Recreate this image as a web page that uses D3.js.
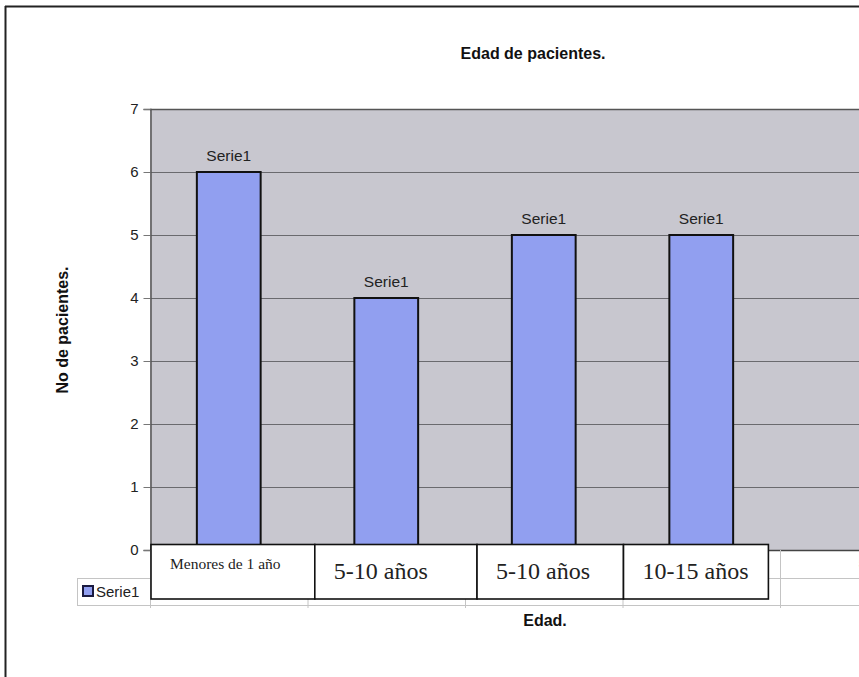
<!DOCTYPE html>
<html><head><meta charset="utf-8">
<script src="https://cdn.jsdelivr.net/npm/d3@7/dist/d3.min.js"></script>
<style>html,body{margin:0;padding:0;background:#fff;overflow:hidden}</style>
</head><body>
<svg id="c" width="859" height="677"></svg>
<script>
// ---- data ----
const categories = ["Menores de 1 año", "5-10 años", "5-10 años", "10-15 años"];
const values = [6, 4, 5, 5];
const hiddenTableLabels = ["", "", "", "", "5"]; // underlying data-table row (only the 5th peeks out at the right edge)
const seriesName = "Serie1";
const yTicks = [0, 1, 2, 3, 4, 5, 6, 7];
const title = "Edad de pacientes.";
const xTitle = "Edad.";
const yTitle = "No de pacientes.";

// ---- layout ----
const W = 859, H = 677;
const plot = {left: 150, top: 109, bottom: 550, step: 157.5};
const overlayEdges = [0, 1.04, 2.07, 3.0, 3.92]; // in category-step units
const svg = d3.select("#c");
const arial = "Arial, 'Liberation Sans', sans-serif";
const times = "'Times New Roman', 'Liberation Serif', serif";

const nCols = hiddenTableLabels.length;
const x = d3.scaleBand().domain(d3.range(nCols)).range([plot.left, plot.left + plot.step * nCols]).padding(0);
const y = d3.scaleLinear().domain([0, 7]).range([plot.bottom, plot.top]);
const barW = x.bandwidth() * 0.405;

// outer frame
svg.append("line").attr("x1", 5).attr("x2", W).attr("y1", 6.5).attr("y2", 6.5).attr("stroke", "#222").attr("stroke-width", 2);
svg.append("line").attr("x1", 5.5).attr("x2", 5.5).attr("y1", 6).attr("y2", H).attr("stroke", "#222").attr("stroke-width", 2);

// plot background
svg.append("rect").attr("x", plot.left).attr("y", plot.top).attr("width", W - plot.left).attr("height", plot.bottom - plot.top)
  .attr("fill", "#c8c7cf");

// gridlines
svg.append("g").selectAll("line").data(yTicks.filter(d => d > 0)).join("line")
  .attr("x1", plot.left).attr("x2", W).attr("y1", d => Math.round(y(d)) + 0.5).attr("y2", d => Math.round(y(d)) + 0.5)
  .attr("stroke", d => d === 7 ? "#555" : "#6a6a6e").attr("stroke-width", d => d === 7 ? 1.5 : 1);

// y axis
const yAxis = d3.axisLeft(y).tickValues(yTicks).tickSize(7).tickPadding(5).tickFormat(d3.format("d"));
const ga = svg.append("g").attr("transform", `translate(${plot.left + 0.5},0)`).call(yAxis);
ga.select(".domain").attr("stroke", "#555").attr("stroke-width", 1.5);
ga.selectAll(".tick line").attr("stroke", "#777");
ga.selectAll("text").attr("font-family", arial).attr("font-size", 15).attr("fill", "#222");

// bars
svg.append("g").selectAll("rect").data(values).join("rect")
  .attr("x", (d, i) => x(i) + x.bandwidth() / 2 - barW / 2)
  .attr("y", d => y(d))
  .attr("width", barW)
  .attr("height", d => y(0) - y(d))
  .attr("fill", "#919ff0").attr("stroke", "#111").attr("stroke-width", 2);

// data labels
svg.append("g").selectAll("text").data(values).join("text")
  .attr("x", (d, i) => x(i) + x.bandwidth() / 2)
  .attr("y", d => y(d) - 11)
  .attr("text-anchor", "middle").attr("font-family", arial).attr("font-size", 15.5).attr("fill", "#222")
  .text(seriesName);

// x axis line (plot bottom)
svg.append("line").attr("x1", plot.left).attr("x2", W).attr("y1", plot.bottom + 0.5).attr("y2", plot.bottom + 0.5)
  .attr("stroke", "#444").attr("stroke-width", 1.5);

// underlying faint data table
const rowY = [plot.bottom, 578, 605];
const tbl = svg.append("g").attr("stroke", "#c4c4c4").attr("stroke-width", 1);
tbl.append("line").attr("x1", plot.left).attr("x2", W).attr("y1", rowY[1] + 0.5).attr("y2", rowY[1] + 0.5);
tbl.append("line").attr("x1", 77).attr("x2", W).attr("y1", rowY[2] + 0.5).attr("y2", rowY[2] + 0.5);
tbl.append("line").attr("x1", 77).attr("x2", plot.left).attr("y1", rowY[1] + 0.5).attr("y2", rowY[1] + 0.5);
tbl.append("line").attr("x1", 77.5).attr("x2", 77.5).attr("y1", rowY[1]).attr("y2", rowY[2]);
tbl.selectAll(".col").data(d3.range(nCols)).join("line")
  .attr("x1", d => x(d) + 0.5).attr("x2", d => x(d) + 0.5).attr("y1", rowY[0]).attr("y2", rowY[2] + 3);
svg.append("g").selectAll("text").data(hiddenTableLabels).join("text")
  .attr("x", (d, i) => x(i) + x.bandwidth() / 2 + 4).attr("y", 568)
  .attr("text-anchor", "middle").attr("font-family", arial).attr("font-size", 15).attr("fill", "#222")
  .text(d => d);

// legend key in table
svg.append("rect").attr("x", 83).attr("y", 586).attr("width", 10).attr("height", 10)
  .attr("fill", "#919ff0").attr("stroke", "#1a1a40").attr("stroke-width", 2);
svg.append("text").attr("x", 96).attr("y", 597).attr("font-family", arial).attr("font-size", 15).attr("fill", "#222").text(seriesName);

// white overlay label boxes
const ox = d3.scaleLinear().domain([0, 1]).range([plot.left + 1, plot.left + 1 + plot.step]);
const boxes = categories.map((c, i) => ({label: c, x0: ox(overlayEdges[i]), x1: ox(overlayEdges[i + 1])}));
const ob = svg.append("g");
ob.selectAll("rect").data(boxes).join("rect")
  .attr("x", d => d.x0).attr("y", 544.5).attr("width", d => d.x1 - d.x0).attr("height", 54.5)
  .attr("fill", "#fff").attr("stroke", "#111").attr("stroke-width", 1.6);
ob.selectAll("text").data(boxes).join("text")
  .attr("x", d => d.x0 + 19)
  .attr("y", (d, i) => i === 0 ? 569 : 579)
  .attr("font-family", times).attr("font-size", (d, i) => i === 0 ? 15.5 : 24).attr("fill", "#222")
  .text(d => d.label);

// titles
svg.append("text").attr("x", 533).attr("y", 59).attr("text-anchor", "middle")
  .attr("font-family", arial).attr("font-weight", "bold").attr("font-size", 16).attr("fill", "#111").text(title);
svg.append("text").attr("x", 545).attr("y", 626).attr("text-anchor", "middle")
  .attr("font-family", arial).attr("font-weight", "bold").attr("font-size", 16).attr("fill", "#111").text(xTitle);
svg.append("text").attr("transform", "translate(68,330) rotate(-90)").attr("text-anchor", "middle")
  .attr("font-family", arial).attr("font-weight", "bold").attr("font-size", 16).attr("fill", "#111").text(yTitle);
</script>
</body></html>
